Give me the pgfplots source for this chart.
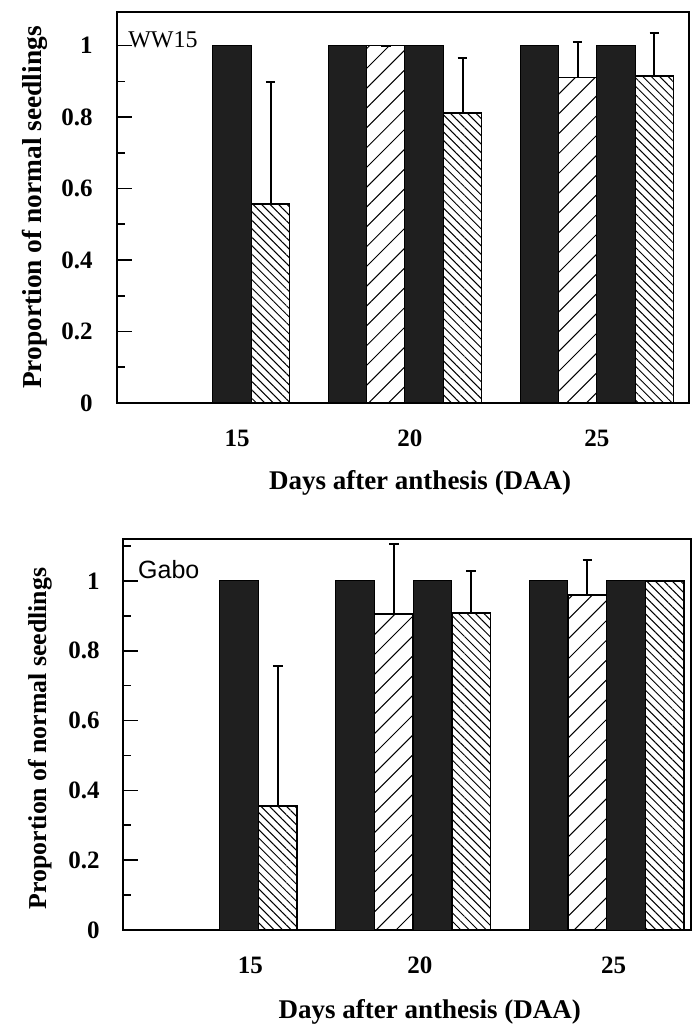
\documentclass[border=0pt]{standalone}
\usepackage{fontspec}
\setmainfont{Liberation Serif}
\newfontfamily\arialfont{Liberation Sans}
\usepackage{pgfplots}
\pgfplotsset{compat=1.18}
\usetikzlibrary{patterns.meta}

\pgfplotsset{
  panel/.style={
    scale only axis, ybar, bar width=1,
    axis line style={line width=1pt},
    ymin=0, xmin=12.5,
    ytick={0,0.2,0.4,0.6,0.8,1},
    yticklabels={0,0.2,0.4,0.6,0.8,1},
    ytick pos=left, xtick pos=bottom,
    tick align=inside,
    major tick length=7.5pt, minor tick length=4pt,
    every tick/.style={black, line width=0.8pt},
    xtick style={draw=none},
    xticklabels={15,20,25},
    ticklabel style={font=\fontsize{12.5}{14}\selectfont\bfseries},
    xticklabel style={anchor=center, yshift=-17.5pt},
    yticklabel style={anchor=east, inner sep=0pt},
    xlabel={Days after anthesis (DAA)},
    ylabel={Proportion of normal seedlings},
    xlabel style={anchor=center, font=\fontsize{13.5}{15}\selectfont\bfseries},
    ylabel style={anchor=center},
  },
  blk/.style={draw=black, fill=black!88, line width=0.5pt},
  ne/.style={draw=black, line width=0.7pt,
    pattern={Lines[angle=45,distance=7pt,line width=0.5pt]}, pattern color=black},
  nw/.style={draw=black, line width=0.7pt,
    pattern={Lines[angle=-45,distance=3pt,line width=0.5pt]}, pattern color=black},
  err/.style={
    error bars/y dir=plus, error bars/y explicit,
    error bars/error bar style={line width=1pt, black},
    error bars/error mark options={black, line width=1pt, mark size=2.4pt, rotate=90}},
}

\begin{document}
\begin{tikzpicture}
\useasboundingbox (0,0) rectangle (346pt,514.5pt);

% WW15
\begin{axis}[panel, at={(58.5pt,313pt)}, anchor=south west,
  width=286pt, height=195.5pt, xmax=27.4, ymax=1.094,
  xtick={15.63,20.13,25},
  minor ytick={0.1,0.3,0.5,0.7,0.9},
  yticklabel style={xshift=-12pt},
  xlabel style={at={(axis description cs:0.53,-0.205)}},
  ylabel style={at={(axis description cs:-0.143,0.5)},
    font=\fontsize{13.7}{15}\selectfont\bfseries}]
\addplot[blk, bar shift=-1.5] coordinates {(20,1) (25,1)};
\addplot[ne, bar shift=-0.5, err] coordinates {(20,1) +- (0,0) (25,0.91) +- (0,0.10)};
\addplot[blk, bar shift=0.5] coordinates {(15,1) (20,1) (25,1)};
\addplot[nw, bar shift=1.5, err] coordinates {(15,0.557) +- (0,0.34) (20,0.811) +- (0,0.154) (25,0.915) +- (0,0.12)};
\node[anchor=base west, inner sep=0pt, font=\fontsize{12}{12}\selectfont] at (rel axis cs:0.019,0.908) {WW15};
\end{axis}

% Gabo
\begin{axis}[panel, at={(61.5pt,49.5pt)}, anchor=south west,
  width=284pt, height=195.5pt, xmax=27.18, ymax=1.12,
  xtick={15.79,20.17,25.18},
  minor ytick={0.1,0.3,0.5,0.7,0.9,1.1},
  yticklabel style={xshift=-11.5pt},
  xlabel style={at={(axis description cs:0.54,-0.21)}},
  ylabel style={at={(axis description cs:-0.146,0.49)},
    font=\fontsize{12.9}{14}\selectfont\bfseries}]
\addplot[blk, bar shift=-1.5] coordinates {(20,1) (25,1)};
\addplot[ne, bar shift=-0.5, err] coordinates {(20,0.905) +- (0,0.20) (25,0.96) +- (0,0.10)};
\addplot[blk, bar shift=0.5] coordinates {(15,1) (20,1) (25,1)};
\addplot[nw, bar shift=1.5, err] coordinates {(15,0.355) +- (0,0.40) (20,0.908) +- (0,0.12) (25,1) +- (0,0)};
\node[anchor=base west, inner sep=0pt, font=\arialfont\fontsize{12.5}{12.5}\selectfont] at (rel axis cs:0.026,0.90) {Gabo};
\end{axis}
\end{tikzpicture}
\end{document}
